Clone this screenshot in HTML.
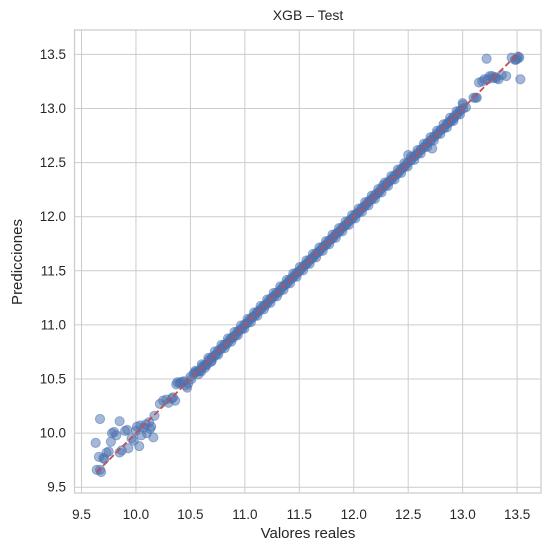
<!DOCTYPE html>
<html><head><meta charset="utf-8"><style>
body{margin:0;background:#fff;}
svg{display:block;font-family:"Liberation Sans",Arial,sans-serif;}
</style></head><body>
<svg id="chart" width="548" height="550">
<rect width="548" height="550" fill="#fff"/>
<g id="grid"></g>
<rect x="74.5" y="30" width="466.5" height="463" fill="none" stroke="#cccccc" stroke-width="1.25"/>
<g id="ticks"></g>
<g id="points"></g>
<g id="ref"></g>
<text x="308" y="20" text-anchor="middle" font-size="14" fill="#262626">XGB – Test</text>
<text x="308" y="538" text-anchor="middle" font-size="15" fill="#262626">Valores reales</text>
<text transform="translate(22,262) rotate(-90)" text-anchor="middle" font-size="15" fill="#262626">Predicciones</text>
</svg>
<script>
const tickValues=[9.5,10.0,10.5,11.0,11.5,12.0,12.5,13.0,13.5];
const tickLabels=["9.5","10.0","10.5","11.0","11.5","12.0","12.5","13.0","13.5"];
const refLine=[9.64,13.52];
const actual=[9.64,9.67,9.63,9.67,9.70,9.71,9.73,9.75,9.77,9.78,9.80,9.82,9.85,9.85,9.87,9.90,9.92,9.93,9.96,9.98,10.00,10.01,10.03,10.05,10.07,10.09,10.10,10.12,10.14,10.16,10.17,10.69,
10.22,10.25,10.28,10.30,10.33,10.36,10.37,10.40,10.43,10.46,10.47,10.50,10.53,10.56,10.59,10.62,10.65,10.68,10.71,10.74,10.77,10.80,10.83,10.86,10.89,10.92,10.95,10.98,11.01,11.04,11.07,11.10,11.13,11.16,11.19,11.22,11.25,11.28,11.31,11.34,11.37,11.40,11.43,11.46,11.49,11.52,11.55,11.58,11.61,11.64,11.67,11.70,11.73,11.76,11.79,11.82,11.85,11.88,11.91,11.94,11.97,12.00,12.03,12.06,12.09,12.12,12.15,12.18,12.21,12.24,12.27,12.30,12.33,12.36,12.39,12.42,12.45,12.48,12.50,12.53,12.56,12.59,12.62,12.65,12.68,12.71,12.72,12.74,12.77,12.80,12.83,12.86,12.89,12.92,12.95,12.98,13.00,13.03,
13.10,13.13,13.15,13.18,13.20,13.22,13.25,13.28,13.30,13.33,13.36,13.40,13.45,13.48,13.50,13.52,13.53,
9.68,9.66,10.04,10.13,10.34,10.38,10.41,10.44,10.48,10.51,10.60,10.64,13.49,13.51,13.23,13.27,13.31,13.12,12.88,12.91];
const predicted=[9.66,9.66,9.91,10.13,9.77,9.76,9.82,9.83,9.92,10.00,10.01,9.98,9.82,10.11,9.84,10.02,10.03,9.86,9.95,9.93,10.02,10.06,9.88,9.98,10.05,10.08,10.00,10.10,10.06,9.96,10.16,10.66,
10.27,10.30,10.31,10.28,10.32,10.30,10.45,10.46,10.47,10.44,10.42,10.52,10.55,10.57,10.58,10.62,10.63,10.68,10.70,10.73,10.77,10.80,10.82,10.86,10.88,10.91,10.95,10.97,11.01,11.04,11.07,11.10,11.13,11.16,11.18,11.22,11.25,11.28,11.30,11.34,11.37,11.40,11.43,11.46,11.49,11.52,11.55,11.58,11.61,11.64,11.67,11.70,11.73,11.76,11.79,11.82,11.85,11.88,11.91,11.94,11.97,12.00,12.03,12.06,12.09,12.12,12.15,12.18,12.21,12.24,12.29,12.30,12.33,12.36,12.39,12.42,12.45,12.48,12.57,12.53,12.56,12.59,12.62,12.65,12.68,12.71,12.63,12.74,12.77,12.80,12.82,12.86,12.88,12.91,12.95,12.98,13.05,13.01,
13.10,13.10,13.24,13.25,13.27,13.46,13.30,13.28,13.29,13.27,13.31,13.30,13.47,13.45,13.46,13.47,13.27,
9.64,9.78,10.07,10.04,10.33,10.47,10.47,10.48,10.46,10.50,10.57,10.63,13.45,13.48,13.27,13.30,13.28,13.10,12.88,12.91];
const actual2=[10.545,10.575,10.605,10.635,10.665,10.695,10.725,10.755,10.785,10.815,10.845,10.875,10.905,10.935,10.965,10.995,11.025,11.055,11.085,11.115,11.145,11.175,11.205,11.235,11.265,11.295,11.325,11.355,11.385,11.415,11.445,11.475,11.505,11.535,11.565,11.595,11.625,11.655,11.685,11.715,11.745,11.775,11.805,11.835,11.865,11.895,11.925,11.955,11.985,12.015,12.045,12.075,12.105,12.135,12.165,12.195,12.225,12.255,12.285,12.315,12.345,12.375,12.405,12.435,12.465,12.495,12.525,12.555,12.585,12.615,12.645,12.675,12.705,12.735,12.765,12.795,12.825,12.855,12.885,12.915,12.945,12.975,13.005];
const predicted2=[10.56,10.57,10.61,10.63,10.67,10.70,10.72,10.76,10.78,10.82,10.84,10.88,10.90,10.94,10.96,11.00,11.02,11.06,11.08,11.12,11.14,11.18,11.20,11.24,11.26,11.30,11.32,11.36,11.38,11.42,11.44,11.48,11.50,11.54,11.56,11.60,11.62,11.66,11.68,11.72,11.74,11.78,11.80,11.84,11.86,11.90,11.92,11.96,11.98,12.02,12.04,12.08,12.10,12.14,12.16,12.20,12.22,12.26,12.28,12.32,12.34,12.38,12.40,12.44,12.46,12.50,12.52,12.56,12.58,12.62,12.64,12.68,12.70,12.74,12.76,12.80,12.82,12.86,12.88,12.92,12.94,12.98,13.00];
const predicted3=[10.575,10.545,10.635,10.605,10.695,10.665,10.755,10.725,10.815,10.785,10.875,10.845,10.935,10.905,10.995,10.965,11.055,11.025,11.115,11.085,11.175,11.145,11.235,11.205,11.295,11.265,11.355,11.325,11.415,11.385,11.475,11.445,11.535,11.505,11.595,11.565,11.655,11.625,11.715,11.685,11.775,11.745,11.835,11.805,11.895,11.865,11.955,11.925,12.015,11.985,12.075,12.045,12.135,12.105,12.195,12.165,12.255,12.225,12.315,12.285,12.375,12.345,12.435,12.405,12.495,12.465,12.555,12.525,12.615,12.585,12.675,12.645,12.735,12.705,12.795,12.765,12.855,12.825,12.915,12.885,12.975,12.945,13.035];
function xs(v){return 81.5+(v-9.5)*108.9;}
function ys(v){return 487.2-(v-9.5)*108.2;}
const NS="http://www.w3.org/2000/svg";
const grid=document.getElementById('grid'),ticks=document.getElementById('ticks');
tickValues.forEach((t,i)=>{
  const vl=document.createElementNS(NS,'line');
  vl.setAttribute('x1',xs(t));vl.setAttribute('x2',xs(t));vl.setAttribute('y1',30);vl.setAttribute('y2',493);
  vl.setAttribute('stroke','#cccccc');vl.setAttribute('stroke-width','1');
  
  
  grid.appendChild(vl);
  const hl=document.createElementNS(NS,'line');
  hl.setAttribute('y1',ys(t));hl.setAttribute('y2',ys(t));hl.setAttribute('x1',74.5);hl.setAttribute('x2',541);
  hl.setAttribute('stroke','#cccccc');hl.setAttribute('stroke-width','1');
  
  
  grid.appendChild(hl);
  const xt=document.createElementNS(NS,'text');
  xt.setAttribute('x',xs(t));xt.setAttribute('y',519);xt.setAttribute('text-anchor','middle');
  xt.setAttribute('font-size','13.5');xt.setAttribute('fill','#262626');xt.textContent=tickLabels[i];
  
  
  ticks.appendChild(xt);
  const yt=document.createElementNS(NS,'text');
  yt.setAttribute('x',66);yt.setAttribute('y',ys(t)+4.5);yt.setAttribute('text-anchor','end');
  yt.setAttribute('font-size','13.5');yt.setAttribute('fill','#262626');yt.textContent=tickLabels[i];
  
  
  ticks.appendChild(yt);
});
const pts=document.getElementById('points');
function drawPts(ax,py){
  ax.forEach((a,i)=>{
    const c=document.createElementNS(NS,'circle');
    c.setAttribute('cx',xs(a));c.setAttribute('cy',ys(py[i]));c.setAttribute('r',4.6);
    c.setAttribute('fill','#4c72b0');c.setAttribute('fill-opacity','0.5');
    c.setAttribute('stroke','#4c72b0');c.setAttribute('stroke-opacity','0.5');c.setAttribute('stroke-width','1');
    
    
    pts.appendChild(c);
  });
}
drawPts(actual,predicted);
drawPts(actual2,predicted2);
drawPts(actual2,predicted3);
const rl=document.createElementNS(NS,'line');
rl.setAttribute('x1',xs(refLine[0]));rl.setAttribute('y1',ys(refLine[0]));
rl.setAttribute('x2',xs(refLine[1]));rl.setAttribute('y2',ys(refLine[1]));
rl.setAttribute('stroke','#c44e52');rl.setAttribute('stroke-width','1.8');rl.setAttribute('stroke-dasharray','6,3');


document.getElementById('ref').appendChild(rl);
</script>
</body></html>
